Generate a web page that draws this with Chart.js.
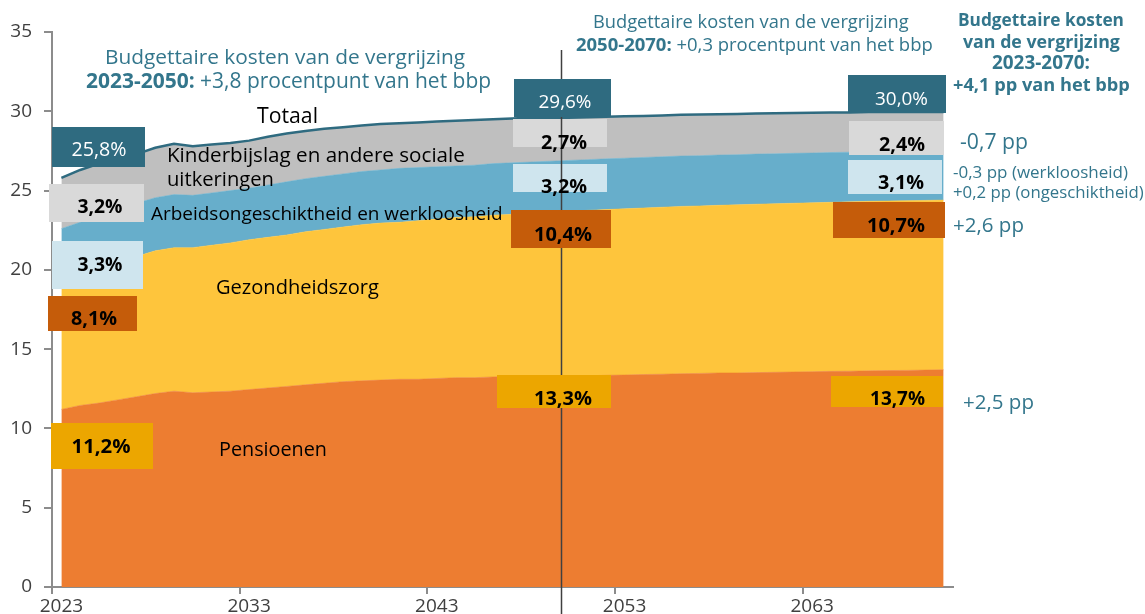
<!DOCTYPE html>
<html>
<head>
<meta charset="utf-8">
<script src="https://cdn.jsdelivr.net/npm/chart.js@4.4.1/dist/chart.umd.min.js"></script>
<style>
  html, body { margin: 0; padding: 0; background: #fff; overflow: hidden; }
  #wrap { position: relative; width: 1145px; height: 614px; }
</style>
</head>
<body>
<div id="wrap"><canvas id="vergrijzing"></canvas></div>
<script>
// jaren en uitgaven (% bbp)
var jaren = [2023, 2024, 2025, 2026, 2027, 2028, 2029, 2030, 2031, 2032,
  2033, 2034, 2035, 2036, 2037, 2038, 2039, 2040, 2041, 2042,
  2043, 2044, 2045, 2046, 2047, 2048, 2049, 2050, 2051, 2052,
  2053, 2054, 2055, 2056, 2057, 2058, 2059, 2060, 2061, 2062,
  2063, 2064, 2065, 2066, 2067, 2068, 2069, 2070];

var pensioenen = [11.2, 11.45, 11.6, 11.8, 12.0, 12.2, 12.35, 12.25, 12.3, 12.35,
  12.45, 12.55, 12.65, 12.75, 12.85, 12.95, 13.0, 13.05, 13.1, 13.1,
  13.15, 13.2, 13.2, 13.25, 13.3, 13.3, 13.3, 13.3, 13.32, 13.35,
  13.37, 13.4, 13.42, 13.45, 13.47, 13.5, 13.5, 13.52, 13.54, 13.56,
  13.58, 13.6, 13.61, 13.63, 13.65, 13.66, 13.68, 13.7];

var gezondheidszorg = [8.1, 8.25, 8.5, 8.7, 8.85, 9.0, 9.05, 9.15, 9.25, 9.35,
  9.45, 9.5, 9.55, 9.65, 9.7, 9.75, 9.85, 9.9, 9.9, 10.0,
  10.05, 10.1, 10.15, 10.2, 10.2, 10.3, 10.35, 10.4, 10.43, 10.45,
  10.48, 10.5, 10.53, 10.55, 10.56, 10.57, 10.6, 10.62, 10.63, 10.64,
  10.65, 10.66, 10.68, 10.69, 10.69, 10.7, 10.7, 10.7];

var arbeidsongeschiktheid = [3.3, 3.3, 3.3, 3.3, 3.35, 3.35, 3.35, 3.3, 3.3, 3.3,
  3.25, 3.3, 3.35, 3.35, 3.35, 3.35, 3.35, 3.35, 3.4, 3.35,
  3.3, 3.25, 3.25, 3.25, 3.25, 3.2, 3.2, 3.2, 3.2, 3.2,
  3.19, 3.19, 3.18, 3.18, 3.17, 3.17, 3.16, 3.16, 3.15, 3.15,
  3.14, 3.14, 3.13, 3.13, 3.12, 3.12, 3.11, 3.1];

var kinderbijslag = [3.2, 3.3, 3.3, 3.2, 3.1, 3.15, 3.2, 3.1, 3.05, 3.0,
  3.0, 3.05, 3.05, 3.0, 3.0, 2.95, 2.9, 2.9, 2.85, 2.85,
  2.85, 2.85, 2.85, 2.8, 2.8, 2.8, 2.75, 2.7, 2.68, 2.66,
  2.64, 2.62, 2.61, 2.6, 2.59, 2.58, 2.57, 2.56, 2.55, 2.54,
  2.53, 2.52, 2.51, 2.5, 2.49, 2.48, 2.47, 2.46];

var xTickLabels = ['2023', '2033', '2043', '2053', '2063'];
var yTicks = [0, 5, 10, 15, 20, 25, 30, 35];
var breukJaar = 2050;

var TEAL = '#2f6b80';
var TEALTXT = '#33768c';
var FONT = '"Open Sans", sans-serif';
function f(size, bold) { return (bold ? 'bold ' : '') + size + 'px ' + FONT; }

// lettergrootte zo kiezen dat de tekst de gewenste breedte krijgt
function pasFont(ctx, tekst, bold, w) {
  ctx.font = f(20, bold);
  var s = 20 * w / ctx.measureText(tekst).width;
  return f(s.toFixed(2), bold);
}

function punten(reeks) {
  return jaren.map(function (j, i) { return { x: j, y: reeks[i] }; });
}

// kaders met percentages (pixelposities van de opmaak)
var kaders = [
  { x0: 52, x1: 145, y0: 127, y1: 167, bg: TEAL, t: '25,8%', c: '#fff', b: false, tx: 99, ty: 150, w: 55, al: 'center', donker: true },
  { x0: 49, x1: 144, y0: 184, y1: 222, bg: '#d9d9d9', t: '3,2%', c: '#000', b: true, tx: 100, ty: 207, w: 45, al: 'center' },
  { x0: 52, x1: 143, y0: 241, y1: 289, bg: '#cfe5ee', t: '3,3%', c: '#000', b: true, tx: 100, ty: 265, w: 45, al: 'center' },
  { x0: 48, x1: 137, y0: 296, y1: 331, bg: '#c55c0a', t: '8,1%', c: '#000', b: true, tx: 94, ty: 319, w: 46, al: 'center', donker: true },
  { x0: 51, x1: 153, y0: 423, y1: 469, bg: '#eca600', t: '11,2%', c: '#000', b: true, tx: 101, ty: 447, w: 59, al: 'center', donker: true },
  { x0: 514, x1: 611, y0: 79, y1: 117, bg: TEAL, t: '29,6%', c: '#fff', b: false, tx: 565, ty: 103, w: 53, al: 'center', donker: true },
  { x0: 513, x1: 607, y0: 119, y1: 147, bg: '#d9d9d9', t: '2,7%', c: '#000', b: true, tx: 564, ty: 143, w: 46, al: 'center' },
  { x0: 513, x1: 607, y0: 164, y1: 192, bg: '#cfe5ee', t: '3,2%', c: '#000', b: true, tx: 564, ty: 187, w: 46, al: 'center' },
  { x0: 511, x1: 611, y0: 210, y1: 248, bg: '#c55c0a', t: '10,4%', c: '#000', b: true, tx: 563, ty: 235, w: 58, al: 'center', donker: true },
  { x0: 497, x1: 611, y0: 375, y1: 408, bg: '#eca600', t: '13,3%', c: '#000', b: true, tx: 563, ty: 399, w: 58, al: 'center', donker: true },
  { x0: 848, x1: 946, y0: 75, y1: 113, bg: TEAL, t: '30,0%', c: '#fff', b: false, tx: 928, ty: 100, w: 53, al: 'right', donker: true },
  { x0: 849, x1: 944, y0: 121, y1: 155, bg: '#d9d9d9', t: '2,4%', c: '#000', b: true, tx: 925, ty: 145, w: 46, al: 'right' },
  { x0: 848, x1: 942, y0: 160, y1: 194, bg: '#cfe5ee', t: '3,1%', c: '#000', b: true, tx: 924, ty: 183, w: 46, al: 'right' },
  { x0: 833, x1: 945, y0: 202, y1: 238, bg: '#c55c0a', t: '10,7%', c: '#000', b: true, tx: 925, ty: 226, w: 58, al: 'right', donker: true },
  { x0: 831, x1: 943, y0: 376, y1: 407, bg: '#eca600', t: '13,7%', c: '#000', b: true, tx: 925, ty: 400, w: 55, al: 'right', donker: true }
];

// losse teksten (w = gewenste breedte)
var teksten = [
  { t: 'Totaal', x: 257, y: 117, w: 61, c: '#000' },
  { t: 'Kinderbijslag en andere sociale', x: 167, y: 156, w: 298, c: '#000' },
  { t: 'uitkeringen', x: 167, y: 180, w: 107, c: '#000' },
  { t: 'Arbeidsongeschiktheid en werkloosheid', x: 151, y: 215, w: 352, c: '#000' },
  { t: 'Gezondheidszorg', x: 216, y: 288, w: 163, c: '#000' },
  { t: 'Pensioenen', x: 219, y: 450, w: 108, c: '#000' },
  { t: 'Budgettaire kosten van de vergrijzing', x: 105, y: 58, w: 360, c: TEALTXT },
  { t: 'Budgettaire kosten van de vergrijzing', x: 593, y: 23, w: 316, c: TEALTXT },
  { t: 'Budgettaire kosten', x: 958, y: 21, w: 166, c: TEALTXT, b: true },
  { t: 'van de vergrijzing', x: 963, y: 43, w: 157, c: TEALTXT, b: true },
  { t: '2023-2070:', x: 992, y: 64, w: 98, c: TEALTXT, b: true },
  { t: '+4,1 pp van het bbp', x: 953, y: 86, w: 177, c: TEALTXT, b: true },
  { t: '-0,7 pp', x: 960, y: 143, w: 68, c: TEALTXT },
  { t: '-0,3 pp (werkloosheid)', x: 953, y: 173, w: 175, c: TEALTXT },
  { t: '+0,2 pp (ongeschiktheid)', x: 953, y: 193, w: 191, c: TEALTXT },
  { t: '+2,6 pp', x: 953, y: 226, w: 71, c: TEALTXT },
  { t: '+2,5 pp', x: 963, y: 403, w: 71, c: TEALTXT }
];

// regels met vet + normaal deel
var gemengd = [
  { vet: '2023-2050:', rest: ' +3,8 procentpunt van het bbp', x: 86, y: 82, w: 405 },
  { vet: '2050-2070:', rest: ' +0,3 procentpunt van het bbp', x: 576, y: 46, w: 357 }
];

function tekenKader(ctx, k) {
  ctx.fillStyle = k.bg;
  ctx.fillRect(k.x0, k.y0, k.x1 - k.x0, k.y1 - k.y0);
}

var opmaakPlugin = {
  id: 'opmaak',
  afterDatasetsDraw: function (chart) {
    var ctx = chart.ctx;
    var xs = chart.scales.x;
    ctx.save();
    // lichte kaders onder de lijn
    kaders.forEach(function (k) { if (!k.donker) tekenKader(ctx, k); });
    // verticale lijn bij 2050
    var lx = Math.round(xs.getPixelForValue(breukJaar - 0.4)) + 0.5;
    ctx.strokeStyle = '#404040';
    ctx.lineWidth = 1.5;
    ctx.beginPath();
    ctx.moveTo(lx, 50);
    ctx.lineTo(lx, 614);
    ctx.stroke();
    kaders.forEach(function (k) { if (k.donker) tekenKader(ctx, k); });

    ctx.textBaseline = 'middle';
    kaders.forEach(function (k) {
      ctx.font = pasFont(ctx, k.t, k.b, k.w);
      ctx.fillStyle = k.c;
      ctx.textAlign = k.al;
      ctx.fillText(k.t, k.tx, k.ty);
    });
    ctx.textAlign = 'left';
    teksten.forEach(function (t) {
      ctx.font = pasFont(ctx, t.t, t.b, t.w);
      ctx.fillStyle = t.c;
      ctx.fillText(t.t, t.x, t.y);
    });
    gemengd.forEach(function (g) {
      ctx.font = f(20, true);
      var w1 = ctx.measureText(g.vet).width;
      ctx.font = f(20, false);
      var w2 = ctx.measureText(g.rest).width;
      var s = (20 * g.w / (w1 + w2)).toFixed(2);
      ctx.fillStyle = TEALTXT;
      ctx.font = f(s, true);
      var v1 = ctx.measureText(g.vet).width;
      ctx.fillText(g.vet, g.x, g.y);
      ctx.font = f(s, false);
      ctx.fillText(g.rest, g.x + v1, g.y);
    });
    ctx.restore();
  }
};

var ctx = document.getElementById('vergrijzing').getContext('2d');
var grafiek = new Chart(ctx, {
  type: 'line',
  data: {
    datasets: [
      { label: 'Pensioenen', data: punten(pensioenen), backgroundColor: '#ed7d31', borderColor: '#ed7d31', borderWidth: 0.5, fill: 'origin' },
      { label: 'Gezondheidszorg', data: punten(gezondheidszorg), backgroundColor: '#fec53c', borderColor: '#fec53c', borderWidth: 0.5, fill: '-1' },
      { label: 'Arbeidsongeschiktheid en werkloosheid', data: punten(arbeidsongeschiktheid), backgroundColor: '#67aecb', borderColor: '#67aecb', borderWidth: 0.5, fill: '-1' },
      { label: 'Kinderbijslag en andere sociale uitkeringen', data: punten(kinderbijslag), backgroundColor: '#bfbfbf', borderColor: TEAL, borderWidth: 2.5, fill: '-1' }
    ]
  },
  options: {
    responsive: true,
    maintainAspectRatio: false,
    animation: false,
    events: [],
    layout: { padding: { left: 0, right: 192, top: 32, bottom: 0 } },
    elements: { point: { radius: 0 }, line: { tension: 0 } },
    plugins: { legend: { display: false }, tooltip: { enabled: false } },
    scales: {
      x: {
        type: 'linear',
        min: jaren[0] - 0.5,
        max: jaren[jaren.length - 1] + 0.5,
        afterFit: function (s) { s.height = 27; },
        afterBuildTicks: function (s) {
          s.ticks = xTickLabels.map(function (l) { return { value: +l - 0.5 }; });
        },
        ticks: {
          autoSkip: false,
          maxRotation: 0,
          padding: 1,
          labelOffset: 9.4,
          color: '#404040',
          font: { size: 19, family: FONT },
          callback: function (v) { return String(Math.round(v + 0.5)); }
        },
        grid: { drawOnChartArea: false, tickLength: 7, color: '#8c8c8c', lineWidth: 2 },
        border: { display: true, color: '#8c8c8c', width: 2 }
      },
      y: {
        stacked: true,
        min: 0,
        max: 35,
        afterFit: function (s) { s.width = 52; },
        afterBuildTicks: function (s) {
          s.ticks = yTicks.map(function (v) { return { value: v }; });
        },
        ticks: {
          padding: 12,
          color: '#404040',
          font: { size: 19, family: FONT }
        },
        grid: { drawOnChartArea: false, tickLength: 8, color: '#8c8c8c', lineWidth: 2 },
        border: { display: true, color: '#8c8c8c', width: 2 }
      }
    }
  },
  plugins: [opmaakPlugin]
});
</script>
</body>
</html>
